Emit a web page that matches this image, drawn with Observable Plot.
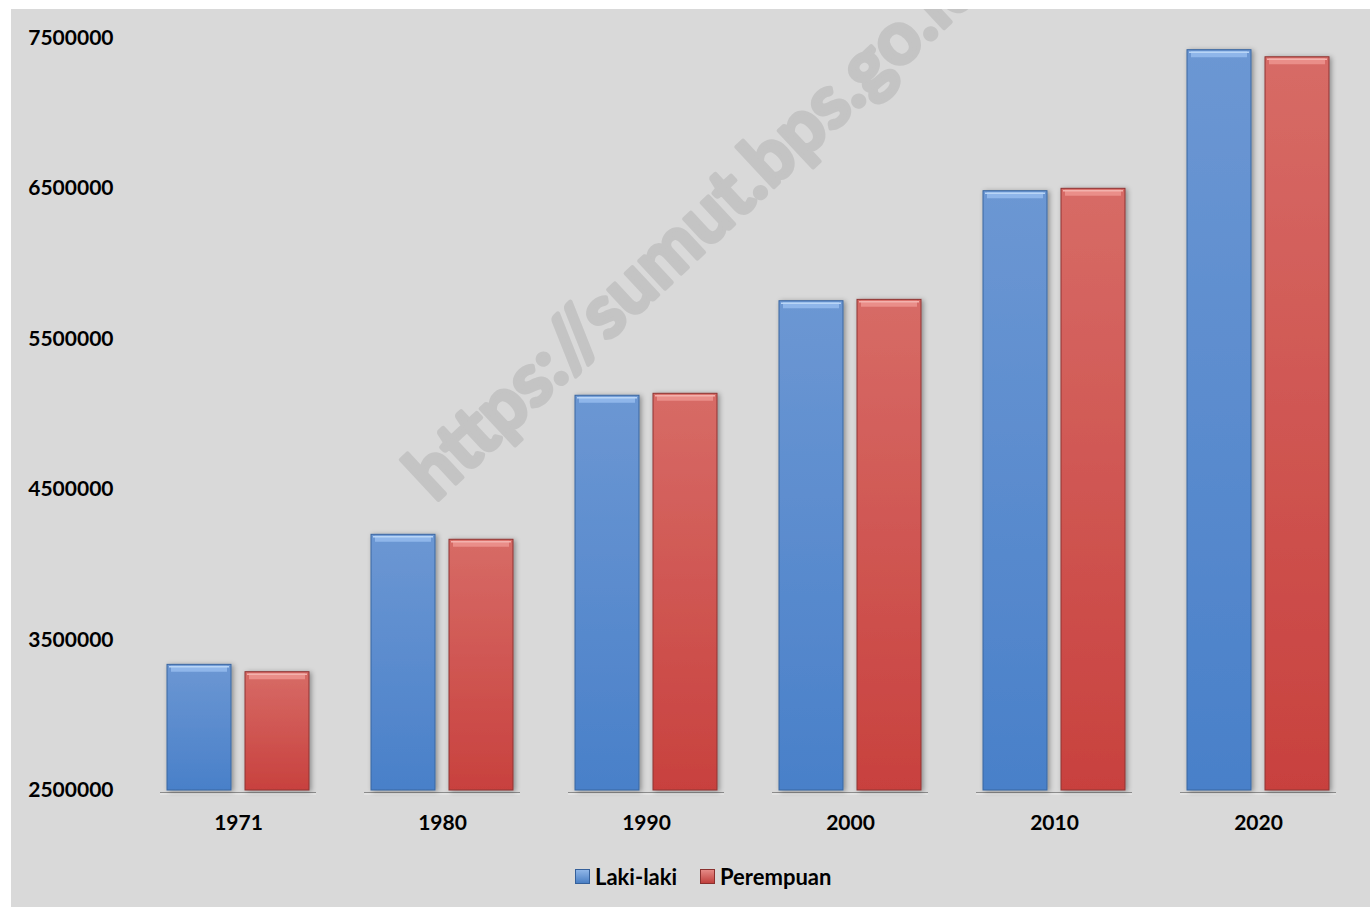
<!DOCTYPE html>
<html>
<head>
<meta charset="utf-8">
<script src="https://cdn.jsdelivr.net/npm/d3@7"></script>
<script src="https://cdn.jsdelivr.net/npm/@observablehq/plot@0.6"></script>
<style>
  html, body { margin: 0; padding: 0; background: #ffffff; }
  #panel { position: absolute; left: 11px; top: 9px; width: 1359px; height: 898px; background: #d9d9d9; overflow: hidden; font-family: Lato, "Open Sans", sans-serif; }
  #wm { position: absolute; left: 0; top: 0; }
  #chart { position: absolute; left: 0; top: 0; }
  .leg { position: absolute; top: 854px; display: flex; align-items: center; font-weight: bold; font-size: 22px; color: #000; }
  .sw { width: 15px; height: 15px; margin-right: 5px; box-sizing: border-box; }
</style>
</head>
<body>
<div id="panel">
  <svg id="wm" width="1359" height="898"></svg>
  <div id="chart"></div>
  <div class="leg" style="left:564px"><div class="sw" style="background:linear-gradient(#8fb6e8,#4a7fc4);border:1px solid #35609a"></div>Laki-laki</div>
  <div class="leg" style="left:689px"><div class="sw" style="background:linear-gradient(#e58a86,#c0403d);border:1px solid #8a302e"></div>Perempuan</div>
</div>
<script>
const years = ["1971", "1980", "1990", "2000", "2010", "2020"];
const series = ["Laki-laki", "Perempuan"];
const laki = [3335000, 4199000, 5123000, 5751000, 6482000, 7419000];
const perempuan = [3286000, 4166000, 5136000, 5760000, 6498000, 7372000];
const yTicks = [2500000, 3500000, 4500000, 5500000, 6500000, 7500000];
const yMin = 2500000, yMax = 7500000;

const data = years.flatMap((y, i) => [
  {year: y, sex: series[0], value: laki[i]},
  {year: y, sex: series[1], value: perempuan[i]}
]);
const dL = data.filter(d => d.sex === series[0]);
const dP = data.filter(d => d.sex === series[1]);

// watermark
const wm = d3.select("#wm");
wm.append("text")
  .attr("transform", "translate(424,494) rotate(-43)")
  .attr("font-family", "Lato, sans-serif")
  .attr("font-weight", "bold")
  .attr("font-size", 74)
  .attr("fill", "#c4c4c4")
  .attr("stroke", "#c4c4c4")
  .attr("stroke-width", 4)
  .attr("stroke-linejoin", "round")
  .text("https://sumut.bps.go.id");

const common = {fx: "year", x: "sex"};
const chart = Plot.plot({
  width: 1359,
  height: 821,
  marginTop: 28.5,
  marginBottom: 40,
  marginLeft: 125,
  marginRight: 10,
  style: {background: "transparent", fontFamily: "Lato, sans-serif", fontWeight: "bold", fontSize: "21px", color: "#000", overflow: "visible"},
  fx: {domain: years, paddingInner: 0.304, paddingOuter: 0.15, label: null, tickSize: 0, tickPadding: 25},
  x: {domain: series, paddingInner: 0.18, paddingOuter: 0, axis: null},
  y: {domain: [yMin, yMax], ticks: yTicks, tickFormat: d3.format("d"), tickSize: 0, tickPadding: 54, label: null},
  marks: [
    Plot.tickY(data, {...common, y: () => yMin, stroke: "#8c8c8c", strokeWidth: 1.2, dy: 2, insetLeft: -7, insetRight: -7}),
    Plot.tickY(data, {...common, y: () => yMin, stroke: "#ececec", strokeWidth: 1, dy: 3.5, insetLeft: -7, insetRight: -7}),
    Plot.barY(dL, {...common, y1: () => yMin, y2: "value", fill: "url(#gBlue)", stroke: "#3a66a0", strokeWidth: 1}),
    Plot.barY(dP, {...common, y1: () => yMin, y2: "value", fill: "url(#gRed)", stroke: "#8e3432", strokeWidth: 1}),
    Plot.tickY(dL, {...common, y: "value", stroke: "#8fb6ea", strokeWidth: 6, dy: 4, insetLeft: 4, insetRight: 4}),
    Plot.tickY(dP, {...common, y: "value", stroke: "#ea8e89", strokeWidth: 6, dy: 4, insetLeft: 4, insetRight: 4}),
    Plot.tickY(dL, {...common, y: "value", stroke: "#b9d5f6", strokeWidth: 1.5, dy: 2, insetLeft: 2, insetRight: 2}),
    Plot.tickY(dP, {...common, y: "value", stroke: "#f3b2ad", strokeWidth: 1.5, dy: 2, insetLeft: 2, insetRight: 2})
  ]
});

const svg = d3.select(chart);
const defs = svg.insert("defs", ":first-child");
const gB = defs.append("linearGradient").attr("id", "gBlue").attr("x1", 0).attr("y1", 0).attr("x2", 0).attr("y2", 1);
gB.append("stop").attr("offset", "0%").attr("stop-color", "#6c97d3");
gB.append("stop").attr("offset", "100%").attr("stop-color", "#4980c9");
const gR = defs.append("linearGradient").attr("id", "gRed").attr("x1", 0).attr("y1", 0).attr("x2", 0).attr("y2", 1);
gR.append("stop").attr("offset", "0%").attr("stop-color", "#d76b66");
gR.append("stop").attr("offset", "100%").attr("stop-color", "#c8413e");
const f = defs.append("filter").attr("id", "shadow").attr("x", "-20%").attr("y", "-5%").attr("width", "140%").attr("height", "110%");
f.append("feDropShadow").attr("dx", 2).attr("dy", 1).attr("stdDeviation", 2.5).attr("flood-color", "#000").attr("flood-opacity", 0.35);
svg.selectAll('g[aria-label="bar"]').attr("filter", "url(#shadow)");

document.getElementById("chart").appendChild(chart);
</script>
</body>
</html>
